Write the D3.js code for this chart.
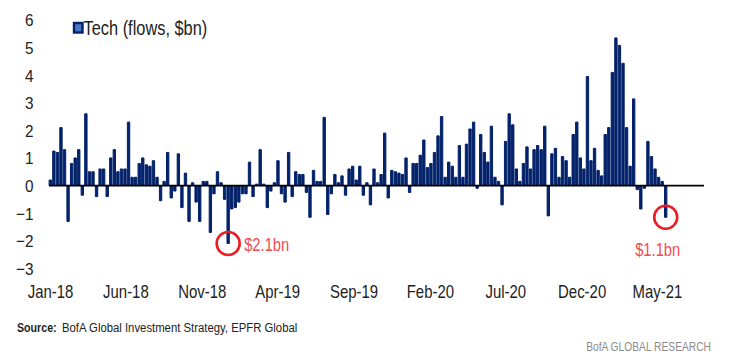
<!DOCTYPE html>
<html><head><meta charset="utf-8">
<script src="https://cdn.jsdelivr.net/npm/d3@7"></script>
<style>
body{margin:0;background:#fff;}
svg text{font-family:"Liberation Sans",Arial,sans-serif;}
</style></head><body>
<svg id="c" width="734" height="359"></svg>
<script>
// Weekly tech fund flows, $bn (Jan-2018 .. May-2021)
const values = [
 0.2, 1.25, 1.2, 2.1, 1.3, -1.3, 0.8, 1.0, 1.3, -0.35,
 2.6, 0.5, 0.5, -0.4, 0.6, 0.6, -0.4, 1.0, 1.3, 0.5,
 0.6, 0.6, 2.3, 0.3, 0.3, 0.8, 1.0, 0.75, 0.7, 0.9,
 0.3, -0.55, 0.15, 1.2, -0.45, -0.2, 1.15, -0.8, 0.45, -1.3,
 0.1, -0.6, -1.3, 0.15, 0.15, -1.7, -0.3, 0.5, 0.1, -0.5,
 -2.1, -0.85, -0.8, -0.6, -0.3, -0.3, 0.85, -0.4, 0.05, 1.3,
 0.05, -0.8, -0.2, 0.1, 0.9, -0.3, -0.6, 1.2, -0.4, 0.5,
 0.4, 0.4, -0.25, -1.15, 0.55, 0.15, 0.15, 2.47, -1.05, -0.3,
 0.4, 0.1, 0.35, -0.35, 0.6, 0.7, 0.2, 0.7, -0.35, 0.1,
 -0.7, 0.6, 0.1, 0.4, 1.9, -0.45, 0.55, 0.5, 0.45, 0.4,
 1.0, -0.25, 0.8, 0.8, 1.1, 1.65, 0.65, 0.8, 1.2, 1.8,
 2.5, 0.3, 0.85, 0.7, 0.3, 1.45, 0.3, 1.5, 2.05, 2.3,
 -0.1, 1.85, 1.2, 0.85, 2.15, 0.3, 0.15, -0.7, 1.6, 2.6,
 2.2, 0.6, 0.15, 0.8, 1.4, 0.6, 1.3, 1.45, 1.3, 2.15,
 -1.1, 1.15, 1.35, 0.3, 1.05, 0.9, 0.3, 1.85, 2.3, 1.0,
 0.6, 3.95, 0.9, 1.35, 0.55, 0.35, 1.85, 2.1, 4.1, 5.35,
 5.08, 4.43, 2.1, 0.7, 3.14, -0.15, -0.85, -0.1, 1.6, 1.05,
 0.6, 0.3, 0.15, -1.15
];
const tickLabels = ["Jan-18","Jun-18","Nov-18","Apr-19","Sep-19","Feb-20","Jul-20","Dec-20","May-21"];
const tickDates = ["2018-01-01","2018-06-01","2018-11-01","2019-04-01","2019-09-01","2020-02-01","2020-07-01","2020-12-01","2021-05-01"];
const yTicks = [-3,-2,-1,0,1,2,3,4,5,6];
const seriesName = "Tech (flows, $bn)";
const annotations = [
  {index: 50, label: "$2.1bn", side: "right"},
  {index: 173, label: "$1.1bn", side: "below"}
];
const sourceLabel = "Source:";
const sourceText = "BofA Global Investment Strategy, EPFR Global";
const brand = "BofA GLOBAL RESEARCH";

const navy = "#03226a";
const red = "#ec1c24";
const K = 0.82; // condensed look
const svg = d3.select("#c");

function narrow(sel, k) {
  sel.each(function() {
    const el = d3.select(this);
    const xx = +el.attr("x") || 0;
    el.attr("transform", `translate(${xx},0) scale(${k},1) translate(${-xx},0)`);
  });
  return sel;
}

const x = d3.scaleLinear().domain([0, values.length - 1]).range([50.3, 665.7]);
const tx = d3.scaleTime()
  .domain([new Date(2018,0,1), new Date(2021,4,1)])
  .range([50, 657]);
const y = d3.scaleLinear().domain([-3, 6]).range([268.3, 20]);
const pitch = x(1) - x(0);
const bw = pitch - 1.2;

// bars
svg.append("g").selectAll("rect").data(values).join("rect")
  .attr("x", (d,i) => x(i) - bw/2)
  .attr("width", bw)
  .attr("y", d => Math.min(y(d), y(0)))
  .attr("height", d => Math.abs(y(d) - y(0)))
  .attr("fill", navy)
  .attr("stroke", navy)
  .attr("stroke-width", 1)
  .attr("stroke-linejoin", "round");

// zero line
svg.append("line")
  .attr("x1", 49).attr("x2", 704)
  .attr("y1", y(0)).attr("y2", y(0))
  .attr("stroke", "#000").attr("stroke-width", 1.8);

// y axis labels
const yAxis = d3.axisLeft(y).tickValues(yTicks).tickSize(0).tickPadding(0);
const gy = svg.append("g").attr("transform", "translate(33.5,0)").call(yAxis);
gy.select(".domain").remove();
gy.selectAll("text").attr("font-size", 17).attr("fill", "#222")
  .attr("font-family", null).attr("dy", "0.35em").attr("x", 0);
narrow(gy.selectAll("text"), 0.9);

// x axis labels
const xAxis = d3.axisBottom(tx)
  .tickValues(tickDates.map(s => new Date(s + "T00:00:00")))
  .tickFormat((d,i) => tickLabels[i]).tickSize(0).tickPadding(0);
const gx = svg.append("g").attr("transform", "translate(0,292)").call(xAxis);
gx.select(".domain").remove();
gx.selectAll("text").attr("font-size", 18).attr("fill", "#222")
  .attr("font-family", null).attr("dy", "0.35em").attr("x", 0);
narrow(gx.selectAll("text"), 0.83);

// legend
svg.append("rect").attr("x", 74).attr("y", 23).attr("width", 8.5).attr("height", 9.5)
  .attr("fill", "#4a78c4").attr("stroke", navy).attr("stroke-width", 2.4);
narrow(svg.append("text").attr("x", 83.5).attr("y", 28).attr("dy", "0.35em")
  .attr("font-size", 19.5).attr("fill", "#222").text(seriesName), 0.84);

// annotations
annotations.forEach(a => {
  const cx = x(a.index), cy = y(values[a.index]);
  svg.append("circle").attr("cx", cx).attr("cy", cy).attr("r", 11.5)
    .attr("fill", "none").attr("stroke", red).attr("stroke-width", 2.6);
  const t = svg.append("text").attr("fill", "#f24a4e").attr("font-size", 18)
    .attr("dy", "0.35em").text(a.label);
  if (a.side === "right") t.attr("x", cx + 16).attr("y", cy + 1);
  else t.attr("x", cx - 8).attr("y", cy + 32).attr("text-anchor", "middle");
  narrow(t, K);
});

// source
narrow(svg.append("text").attr("x", 17).attr("y", 327).attr("dy", "0.35em")
  .attr("font-size", 13).attr("font-weight", "bold").attr("fill", "#222")
  .text(sourceLabel), K);
narrow(svg.append("text").attr("x", 62).attr("y", 327).attr("dy", "0.35em")
  .attr("font-size", 13.5).attr("fill", "#222").text(sourceText), 0.84);

narrow(svg.append("text").attr("x", 711).attr("y", 347).attr("dy", "0.35em")
  .attr("text-anchor", "end").attr("font-size", 12.5).attr("fill", "#8c8c8c")
  .text(brand), K);
</script>
</body></html>
